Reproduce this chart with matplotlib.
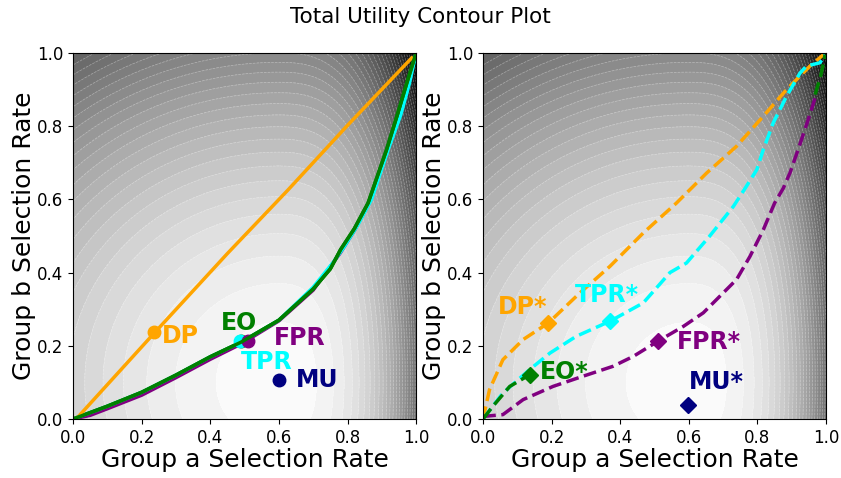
import numpy as np
import matplotlib
matplotlib.use('Agg')
import matplotlib.pyplot as plt

# --- данные ---
# левая панель: кривые (сплошные)
dp_x = [0.0, 0.012, 0.239, 0.45, 0.627, 0.8, 0.987]
dp_y = [0.0, 0.003, 0.237, 0.452, 0.626, 0.802, 0.986]
eo_x = [0.0, 0.1, 0.2, 0.3, 0.4, 0.49, 0.6, 0.7, 0.75, 0.78, 0.82, 0.86, 0.914, 0.945, 0.973, 1.0]
eo_y = [0.0, 0.035, 0.073, 0.12, 0.17, 0.21, 0.27, 0.355, 0.41, 0.463, 0.52, 0.59, 0.736, 0.83, 0.918, 1.0]
tpr_x = [0.0, 0.1, 0.2, 0.3, 0.4, 0.49, 0.6, 0.7, 0.76, 0.79, 0.83, 0.87, 0.92, 0.955, 0.98, 1.0]
tpr_y = [0.0, 0.035, 0.073, 0.12, 0.17, 0.21, 0.27, 0.36, 0.43, 0.47, 0.53, 0.6, 0.74, 0.83, 0.915, 1.0]
fpr_x = [0.0, 0.05, 0.1, 0.2, 0.3, 0.4, 0.49, 0.6, 0.7, 0.78, 0.82, 0.86, 0.91, 0.95, 1.0]
fpr_y = [0.0, 0.01, 0.028, 0.065, 0.113, 0.163, 0.205, 0.268, 0.352, 0.455, 0.515, 0.585, 0.72, 0.84, 1.0]

# левая панель: точки
pts_left = {'DP': (0.237, 0.237), 'EO': (0.49, 0.212), 'TPR': (0.486, 0.212),
            'FPR': (0.511, 0.212), 'MU': (0.6, 0.107)}
# позиции подписей (левый край, центр по вертикали)
lbl_left = {'DP': (0.26, 0.228), 'EO': (0.43, 0.263), 'TPR': (0.49, 0.155),
            'FPR': (0.585, 0.222), 'MU': (0.65, 0.107)}

# правая панель: кривые (пунктир)
dps_x = [0.0, 0.019, 0.058, 0.117, 0.19, 0.282, 0.37, 0.467, 0.564, 0.652, 0.739, 0.817, 0.885, 0.953, 0.992]
dps_y = [0.0, 0.08, 0.162, 0.217, 0.262, 0.344, 0.417, 0.508, 0.59, 0.672, 0.745, 0.827, 0.9, 0.964, 0.995]
tprs_x = [0.0, 0.058, 0.136, 0.195, 0.272, 0.37, 0.467, 0.545, 0.593, 0.661, 0.73, 0.768, 0.798, 0.817,
          0.846, 0.885, 0.924, 0.943, 0.982, 0.997]
tprs_y = [0.0, 0.071, 0.135, 0.18, 0.226, 0.267, 0.317, 0.4, 0.426, 0.5, 0.581, 0.636, 0.681, 0.736,
          0.809, 0.882, 0.945, 0.964, 0.973, 0.995]
fprs_x = [0.0, 0.058, 0.117, 0.204, 0.292, 0.379, 0.438, 0.509, 0.584, 0.642, 0.69, 0.739, 0.778, 0.817,
          0.85, 0.875, 0.895, 0.92, 0.945, 0.968]
fprs_y = [0.007, 0.012, 0.053, 0.089, 0.117, 0.144, 0.171, 0.212, 0.253, 0.29, 0.335, 0.381, 0.444, 0.517,
          0.59, 0.63, 0.673, 0.74, 0.81, 0.877]
eos_x = [0.0, 0.029, 0.078, 0.136, 0.15, np.nan, 0.968, 0.985, 0.997]
eos_y = [0.0, 0.035, 0.089, 0.121, 0.13, np.nan, 0.886, 0.94, 0.995]

pts_right = {'DP*': (0.19, 0.262), 'TPR*': (0.37, 0.267), 'FPR*': (0.509, 0.212),
             'EO*': (0.136, 0.121), 'MU*': (0.598, 0.039)}
lbl_right = {'DP*': (0.043, 0.307), 'TPR*': (0.268, 0.34), 'FPR*': (0.565, 0.211),
             'EO*': (0.165, 0.129), 'MU*': (0.6, 0.1)}

colors = {'DP': 'orange', 'EO': 'green', 'TPR': 'cyan', 'FPR': 'purple', 'MU': 'navy'}


def utility(xa, xb):
    # сепарабельная функция полезности, максимум около MU
    ua = -0.15 * ((xa - 0.6) / 0.6) ** 2 - 6.8 * np.clip(xa - 0.6, 0, None) ** 3
    ub = -0.42 * ((xb - 0.1) / 0.9) ** 2
    return ua + ub


def draw_background(ax):
    g = np.linspace(0, 1, 300)
    X, Y = np.meshgrid(g, g)
    Z = utility(X, Y)
    levels = np.linspace(Z.min(), Z.max() + 0.01, 40)
    ax.contourf(X, Y, Z, levels=levels, cmap='gray', vmin=Z.min(), vmax=Z.max() + 0.02)
    ax.contour(X, Y, Z, levels=levels, colors='white', linewidths=0.5, alpha=0.35)


def setup(ax):
    ax.set_xlim(0, 1)
    ax.set_ylim(0, 1)
    ax.set_xticks(np.arange(0, 1.01, 0.2))
    ax.set_yticks(np.arange(0, 1.01, 0.2))
    ax.tick_params(labelsize=12)
    ax.set_xlabel('Group a Selection Rate', fontsize=18, labelpad=1)
    ax.set_ylabel('Group b Selection Rate', fontsize=18, labelpad=1)


fig = plt.figure(figsize=(8.41, 4.78), dpi=100)
ax1 = fig.add_axes([0.0868, 0.1234, 0.408, 0.766])
ax2 = fig.add_axes([0.5743, 0.1234, 0.408, 0.766])

# левая панель
draw_background(ax1)
ax1.plot(fpr_x, fpr_y, color='purple', lw=2.5)
ax1.plot(tpr_x, tpr_y, color='cyan', lw=2.5)
ax1.plot(eo_x, eo_y, color='green', lw=2.5)
ax1.plot(dp_x, dp_y, color='orange', lw=2.5)
for name in ['DP', 'EO', 'TPR', 'FPR', 'MU']:
    px, py = pts_left[name]
    ax1.plot(px, py, 'o', color=colors[name], ms=9)
ax1.plot(eo_x, eo_y, color='green', lw=2.5)  # линия EO поверх точек
for name, (tx, ty) in lbl_left.items():
    ax1.text(tx, ty, name, color=colors[name], fontsize=17, fontweight='bold', ha='left', va='center')
setup(ax1)

# правая панель
draw_background(ax2)
ax2.plot(dps_x, dps_y, '--', color='orange', lw=2.5)
ax2.plot(tprs_x, tprs_y, '--', color='cyan', lw=2.5)
ax2.plot(fprs_x, fprs_y, '--', color='purple', lw=2.5)
ax2.plot(eos_x, eos_y, '--', color='green', lw=2.5)
for name, (px, py) in pts_right.items():
    ax2.plot(px, py, 'D', color=colors[name[:-1]], ms=8)
for name, (tx, ty) in lbl_right.items():
    ax2.text(tx, ty, name, color=colors[name[:-1]], fontsize=17, fontweight='bold', ha='left', va='center')
setup(ax2)

fig.suptitle('Total Utility Contour Plot', fontsize=15.5, y=0.985)
fig.savefig('out.png', dpi=100)
